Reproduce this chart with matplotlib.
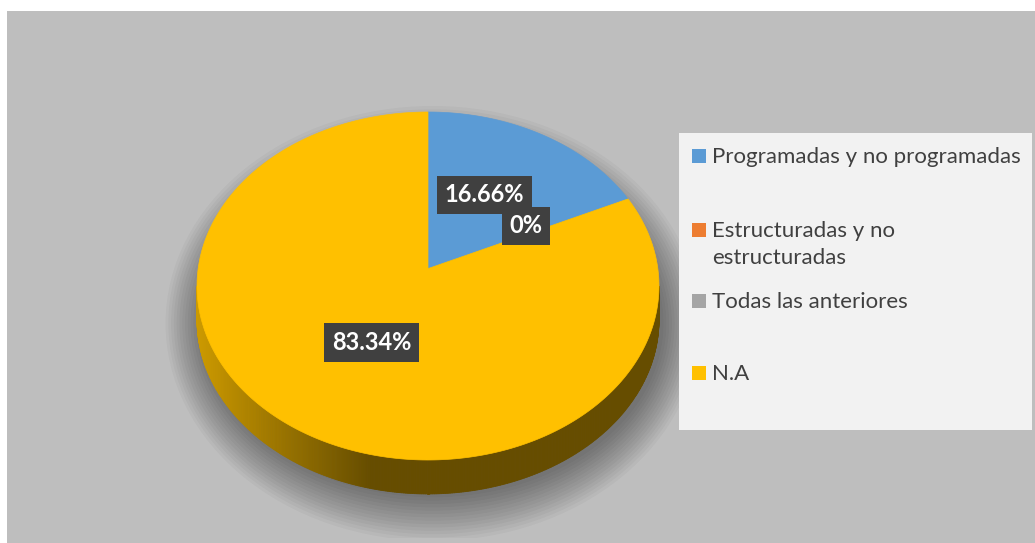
import numpy as np
import matplotlib.pyplot as plt
from matplotlib.patches import Polygon, Rectangle, Ellipse

# data
categories = ["Programadas y no programadas", "Estructuradas y no\nestructuradas",
              "Todas las anteriores", "N.A"]
values = [16.66, 0.0, 0.0, 83.34]
labels = ["16.66%", "0%", "0%", "83.34%"]
colors = ["#5B9BD5", "#ED7D31", "#A5A5A5", "#FFC000"]

W, H = 1035, 543
fig = plt.figure(figsize=(W / 100, H / 100), dpi=100, facecolor="white")

# background panel in pixel coords
bg = fig.add_axes([0, 0, 1, 1], zorder=0)
bg.set_xlim(0, W)
bg.set_ylim(H, 0)
bg.axis("off")
bg.add_patch(Rectangle((7, 11), W - 7, H - 11, fc="#BEBEBE", ec="none"))

# pie axes: one unit = 231 px horizontally, 174 px vertically
cx, cy, ax_px, ay_px = 428, 286, 231, 174
x0, x1, y0, y1 = -1.2, 1.2, -1.45, 1.05
ax = fig.add_axes([(cx + x0 * ax_px) / W, 1 - (cy - y0 * ay_px) / H,
                   (x1 - x0) * ax_px / W, (y1 - y0) * ay_px / H], zorder=1)
ax.set_xlim(x0, x1)
ax.set_ylim(y0, y1)
ax.axis("off")

depth = 0.195
apex = (0.0, 0.1)

# soft shadow under the pie
for k in range(14):
    s = 0.012 * k
    ax.add_patch(Ellipse((0.02, -depth - 0.02), 2 * (1.0 + s), 2 * (1.0 + 1.6 * s),
                         fc="black", ec="none", alpha=0.032))

fracs = np.array(values) / sum(values)
starts = np.concatenate([[0], np.cumsum(fracs)[:-1]]) * 2 * np.pi
ends = np.cumsum(fracs) * 2 * np.pi


def shade(c, f):
    r, g, b = plt.matplotlib.colors.to_rgb(c)
    return (r * f, g * f, b * f)


# side wall (front half only), gradient from left to centre
n = 400
for t0, t1, c in zip(starts, ends, colors):
    lo, hi = max(t0, np.pi / 2), min(t1, 3 * np.pi / 2)
    if hi <= lo:
        continue
    ts = np.linspace(lo, hi, max(int(n * (hi - lo) / np.pi), 2))
    for a, b in zip(ts[:-1], ts[1:]):
        xa, ya, xb, yb = np.sin(a), np.cos(a), np.sin(b), np.cos(b)
        xm = (xa + xb) / 2
        f = 0.40 + 0.40 * np.clip((-0.25 - xm) / 0.75, 0, 1)
        ax.add_patch(Polygon([(xa, ya), (xb, yb), (xb, yb - depth), (xa, ya - depth)],
                             closed=True, fc=shade(c, f), ec=shade(c, f), lw=0.6))

# top face
for t0, t1, c in zip(starts, ends, colors):
    if t1 - t0 <= 0:
        continue
    ts = np.linspace(t0, t1, 300)
    pts = [apex] + list(zip(np.sin(ts), np.cos(ts)))
    ax.add_patch(Polygon(pts, closed=True, fc=c, ec=c, lw=0.5))

# data labels
for t0, t1, lab in zip(starts, ends, labels):
    m = (t0 + t1) / 2
    r = 0.49
    ax.text(apex[0] + r * np.sin(m), apex[1] + r * np.cos(m), lab,
            ha="center", va="center", color="white", fontsize=17,
            fontweight="bold", family="Lato", zorder=5,
            bbox=dict(boxstyle="square,pad=0.32", fc="#404040", ec="none"))

# legend
ov = fig.add_axes([0, 0, 1, 1], zorder=2)
ov.set_xlim(0, W)
ov.set_ylim(H, 0)
ov.axis("off")
ov.patch.set_alpha(0)
ov.add_patch(Rectangle((679, 133), 353, 297, fc="#F2F2F2", ec="none"))
baselines = [163, 237, 308, 380]
for cat, c, yb in zip(categories, colors, baselines):
    ov.add_patch(Rectangle((692, yb - 14), 14, 14, fc=c, ec="none"))
    for i, line in enumerate(cat.split("\n")):
        ov.text(712, yb + 27 * i, line, ha="left", va="baseline", fontsize=16,
                family="Lato", color="#404040")

fig.savefig("out.png", dpi=100, facecolor="white")
